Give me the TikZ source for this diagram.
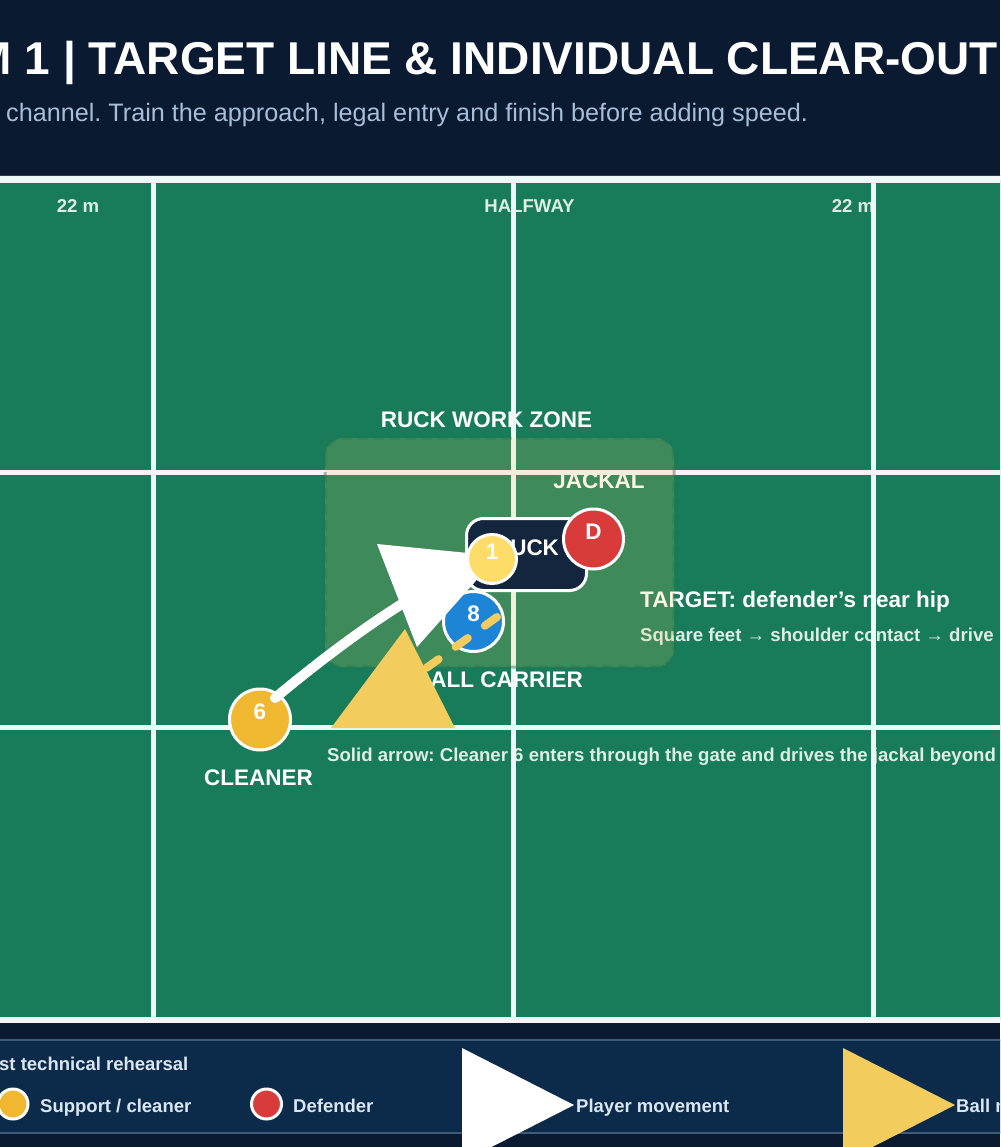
\documentclass[tikz,border=0pt]{standalone}
\usepackage{fontspec}
\setmainfont{Liberation Sans}
\frenchspacing
\definecolor{navy}{HTML}{0A1A30}
\definecolor{hdrline}{HTML}{2C3E55}
\definecolor{pitchc}{HTML}{187C5A}
\definecolor{plinec}{HTML}{F1F6F8}
\definecolor{subc}{HTML}{A8BED8}
\definecolor{lblc}{HTML}{DCEEE6}
\definecolor{zonec}{HTML}{F2CC5C}
\definecolor{zoneedge}{HTML}{2A7550}
\definecolor{ruckc}{HTML}{13263D}
\definecolor{yelc}{HTML}{FDDC68}
\definecolor{redc}{HTML}{D93B3B}
\definecolor{bluec}{HTML}{1E84D6}
\definecolor{orc}{HTML}{F0B731}
\definecolor{arry}{HTML}{F2CC5C}
\definecolor{legbg}{HTML}{0C2B4A}
\definecolor{legbd}{HTML}{3E5B78}
\definecolor{legtx}{HTML}{DAE6F2}
\tikzset{
  lblsmall/.style={font=\fontsize{18.6}{22}\selectfont\bfseries, text=lblc, inner sep=0pt},
  lblbig/.style={font=\fontsize{22.5}{26}\selectfont\bfseries, text=white, inner sep=0pt},
  legtext/.style={font=\fontsize{18.5}{22}\selectfont\bfseries, text=legtx, inner sep=0pt},
  pitchline/.style={draw=plinec, line width=5},
  player/.style={circle, draw=white, line width=3, inner sep=0pt},
  plabel/.style={font=\fontsize{22.5}{26}\selectfont\bfseries, text=white, inner sep=0pt, anchor=base},
}
\begin{document}
\begin{tikzpicture}[x=1pt,y=-1pt]
\useasboundingbox (0,0) rectangle (1000,1147);
\clip (0,0) rectangle (1000,1147);
% background
\fill[navy] (0,0) rectangle (1000,1147);
\draw[hdrline, line width=1.5] (-10,175.5) -- (1010,175.5);
% header
\node[anchor=base east, font=\fontsize{46}{52}\selectfont\bfseries, text=white, inner sep=0pt] (title) at (998,75) {M 1 | TARGET LINE \& INDIVIDUAL CLEAR-OUT};
\node[anchor=base west, font=\fontsize{25.2}{30}\selectfont, text=subc, inner sep=0pt] (subtitle) at (6,122) {channel. Train the approach, legal entry and finish before adding speed.};
% pitch
\fill[pitchc] (-10,180) rectangle (1010,1020);
% labels under the lines
\node[lblsmall, anchor=base] (l22a) at (78,213) {22 m};
\node[lblsmall, anchor=base] (lhalf) at (529.5,213) {HALFWAY};
\node[lblsmall, anchor=base] (l22b) at (853,213) {22 m};
\node[lblbig, anchor=base] (lzone) at (486.5,427) {RUCK WORK ZONE};
\node[lblbig, anchor=base] (ljack) at (599,488) {JACKAL};
\node[lblbig, anchor=base] (lclean) at (258.5,785) {CLEANER};
\node[lblbig, anchor=base east] (lball) at (583,687) {BALL CARRIER};
\node[lblbig, anchor=base west] (ltarget) at (640,607) {TARGET: defender’s near hip};
\node[lblsmall, anchor=base west] (lsq) at (640,641) {Square feet → shoulder contact → drive};
\node[lblsmall, anchor=base west] (lsolid) at (327,761) {Solid arrow: Cleaner 6 enters through the gate and drives the jackal beyond};
% pitch lines
\draw[pitchline] (153,180) -- (153,1020);
\draw[pitchline] (513.5,180) -- (513.5,1020);
\draw[pitchline] (873.5,180) -- (873.5,1020);
\draw[pitchline] (-10,472) -- (1010,472);
\draw[pitchline] (-10,727) -- (1010,727);
\draw[draw=plinec, line width=7] (-10,180) -- (1010,180);
\draw[draw=plinec, line width=6] (-10,1020) -- (1010,1020);
% ruck work zone
\fill[zonec, fill opacity=0.18, rounded corners=18] (325,438) rectangle (674,667);
\draw[zoneedge, draw opacity=0.45, line width=3, dash pattern=on 10 off 6, rounded corners=18] (325,438) rectangle (674,667);
% ruck
\node[draw=white, line width=3, fill=ruckc, rounded corners=17, minimum width=120, minimum height=72, inner sep=0pt] (ruck) at (526.5,554.5) {};
\node[plabel] (rucktxt) at (526.5,555.5) {RUCK};
% players under arrows
\node[player, fill=bluec, minimum size=60] (p8) at (473.5,621.5) {};
\node[plabel] (p8t) at (473.5,621.5) {8};
\node[player, fill=orc, minimum size=61] (p6) at (260,719.5) {};
\node[plabel] (p6t) at (260,719.5) {6};
% arrows
\coordinate (w0) at (275,698);
\coordinate (w1) at (359,628);
\coordinate (w2) at (431,581);
\coordinate (w3) at (492,557);
\draw[white, line width=10, line cap=round] (w0) .. controls (w1) and (w2) .. (w3);
\coordinate (wa) at (377,544);
\coordinate (wb) at (498,556);
\coordinate (wc) at (417,647);
\fill[white] (wa) -- (wb) -- (wc) -- cycle;
\coordinate (y0) at (497,617);
\coordinate (y1) at (400,687);
\draw[arry, line width=8, line cap=round, dash pattern=on 15 off 21] (y0) -- (y1);
\coordinate (ya) at (331,728);
\coordinate (yb) at (405,629);
\coordinate (yc) at (455,728);
\fill[arry] (ya) -- (yb) -- (yc) -- cycle;
% players on top
\node[player, fill=yelc, minimum size=49] (p1) at (492,559) {};
\node[plabel] (p1t) at (492,559) {1};
\node[player, fill=redc, minimum size=60] (pd) at (593.5,539) {};
\node[plabel] (pdt) at (593.5,539) {D};
% legend
\draw[fill=legbg, draw=legbd, line width=1.5] (-10,1040) rectangle (1010,1133);
\node[legtext, anchor=base west] (lhead) at (-1,1070) {st technical rehearsal};
\node[player, fill=orc, minimum size=30] (kc) at (13,1104) {};
\node[legtext, anchor=base west] (kct) at (40,1112) {Support / cleaner};
\node[player, fill=redc, minimum size=30] (kd) at (266.5,1104) {};
\node[legtext, anchor=base west] (kdt) at (293,1112) {Defender};
\coordinate (ka) at (462,1048);
\coordinate (kb) at (574,1105);
\coordinate (kc2) at (462,1162);
\fill[white] (ka) -- (kb) -- (kc2) -- cycle;
\node[legtext, anchor=base west] (kwt) at (576,1112) {Player movement};
\coordinate (kya) at (843,1048);
\coordinate (kyb) at (955,1105);
\coordinate (kyc) at (843,1162);
\fill[arry] (kya) -- (kyb) -- (kyc) -- cycle;
\node[legtext, anchor=base west] (kyt) at (956,1112) {Ball movement};
\end{tikzpicture}
\end{document}
